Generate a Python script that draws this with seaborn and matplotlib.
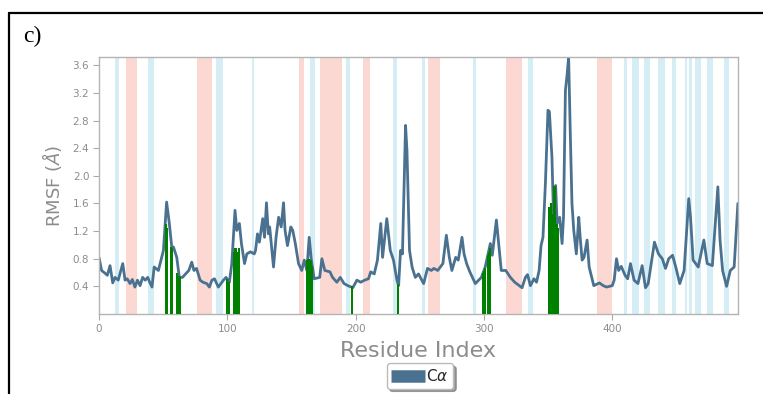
import numpy as np
import pandas as pd
import seaborn as sns
import matplotlib
matplotlib.use("Agg")
import matplotlib.pyplot as plt
from matplotlib.lines import Line2D

# ---------------- data ----------------
residue = [0, 2, 4.7, 6.5, 8.6, 10.7, 12.5, 15, 18.5, 20.3, 22, 24.2, 26, 28, 30, 32, 34, 36, 38, 39.5,
           41.3, 43, 46.3, 50.2, 52.7, 54.8, 56.7, 58, 60.6, 62.6, 65, 70, 72.3, 74, 76, 78.8, 81, 84, 86, 88,
           90, 93, 97, 99, 101.6, 103.5, 106, 107.4, 109.4, 111, 113.4, 115.2, 118, 121, 122, 123.5, 125,
           127.6, 129, 130.5, 132, 133, 134.5, 136, 138, 140, 142, 143.8, 145, 146.9, 149.5, 151, 153, 155.5,
           158, 160, 162, 163.8, 165.5, 167.7, 172, 173.7, 176, 180, 182, 185.4, 188, 191, 194, 197.8, 201,
           204, 207, 210, 211.8, 214.5, 217, 219.6, 221, 224.3, 227, 229.5, 232.2, 233.5, 235, 236.5, 238.9,
           240, 242, 244, 246.5, 249, 253, 256, 259, 261, 264, 268, 270.7, 273, 275, 278, 280, 282.9, 284.5,
           286.5, 289, 293.3, 298, 301, 305, 306.5, 309.7, 311, 313.5, 317, 320.6, 324, 329.7, 332.3, 334,
           336.2, 339, 341, 343, 344.5, 346, 347.9, 349.9, 351, 353, 354.3, 355.9, 357, 359, 360.9, 362,
           363.5, 364.8, 366, 367.3, 368.6, 370, 372, 373.9, 375, 376.5, 378, 380.4, 382, 385.6, 390, 393,
           395.5, 400, 401.5, 403.3, 405, 407, 410, 412, 414.2, 417, 420, 423.3, 425.9, 428, 432.9, 436, 439,
           441.5, 444, 447, 449.5, 452.6, 456, 459.6, 461, 463, 467, 471.4, 474, 478, 482.3, 484, 486, 489.1,
           492, 495, 497.9]
rmsf = [0.82, 0.63, 0.59, 0.56, 0.70, 0.45, 0.53, 0.49, 0.73, 0.49, 0.51, 0.44, 0.50, 0.39, 0.49, 0.41,
        0.53, 0.49, 0.53, 0.46, 0.39, 0.68, 0.63, 0.92, 1.62, 1.31, 0.97, 0.97, 0.82, 0.53, 0.53, 0.63, 0.75,
        0.63, 0.66, 0.49, 0.46, 0.44, 0.39, 0.49, 0.51, 0.39, 0.49, 0.53, 0.46, 0.73, 1.50, 1.21, 1.31, 1.02,
        0.73, 0.87, 0.90, 0.87, 0.92, 1.16, 1.04, 1.38, 1.11, 1.61, 1.16, 1.26, 0.97, 0.68, 1.11, 1.40, 1.26,
        1.61, 1.21, 0.99, 1.26, 1.21, 1.02, 0.73, 0.63, 0.78, 0.63, 1.11, 0.78, 0.51, 0.53, 0.80, 0.63, 0.61,
        0.53, 0.46, 0.53, 0.44, 0.41, 0.38, 0.49, 0.46, 0.49, 0.51, 0.61, 0.58, 0.78, 1.31, 0.82, 1.38, 0.92,
        0.78, 0.49, 0.41, 0.92, 0.87, 2.73, 2.37, 0.92, 0.68, 0.53, 0.58, 0.44, 0.66, 0.63, 0.66, 0.63, 0.73,
        1.14, 0.82, 0.63, 0.82, 0.78, 1.11, 0.87, 0.73, 0.61, 0.44, 0.53, 0.68, 1.02, 0.85, 1.36, 1.11, 0.63,
        0.63, 0.53, 0.46, 0.38, 0.53, 0.57, 0.41, 0.51, 0.46, 0.63, 0.99, 1.11, 1.89, 2.95, 2.93, 2.27, 1.36,
        1.86, 1.31, 1.40, 1.02, 1.40, 3.24, 3.46, 3.72, 2.61, 1.60, 1.21, 0.87, 1.40, 1.11, 0.78, 0.82, 1.07,
        0.68, 0.41, 0.45, 0.41, 0.39, 0.41, 0.49, 0.80, 0.63, 0.69, 0.56, 0.51, 0.73, 0.49, 0.44, 0.70, 0.38,
        0.44, 1.04, 0.87, 0.80, 0.66, 0.80, 0.85, 0.68, 0.44, 0.63, 1.67, 1.40, 0.78, 0.68, 1.07, 0.73, 0.70,
        1.84, 1.07, 0.63, 0.40, 0.63, 0.68, 1.60]

contact_res = [52, 53, 56, 57, 61, 62, 63, 100, 101, 105, 106, 107, 108, 109, 162, 163, 164, 165, 166,
               197, 233, 299, 300, 301, 303, 304, 305, 351, 352, 353, 354, 355, 356, 357, 358]
contact_val = [1.30, 1.25, 0.97, 0.95, 0.60, 0.55, 0.53, 0.50, 0.46, 0.90, 0.95, 0.95, 0.90, 0.95,
               0.78, 0.80, 0.80, 0.78, 0.70, 0.40, 0.43, 0.60, 0.62, 0.66, 0.85, 0.90, 0.95,
               1.55, 1.60, 1.45, 1.35, 1.85, 1.30, 1.30, 1.25]

helix_start = [21, 76, 155.5, 172.5, 206, 256.5, 317.5, 388.5]
helix_end = [30, 88, 159.5, 189, 211.5, 266, 330, 400]
strand_start = [12.5, 38.5, 91.5, 119, 164.5, 192.5, 229, 251.5, 291.5, 334, 409.5, 415.4, 424.6,
                435.5, 446.2, 456.5, 459.7, 464.8, 473.5, 487.3]
strand_end = [15.5, 42.5, 97, 120.5, 168.5, 196, 232, 254.3, 294, 338, 411.6, 421, 429.8, 441, 450,
              458.2, 461.8, 469, 478.6, 490.8]

x_ticks = [0, 100, 200, 300, 400]
y_ticks = [0.4, 0.8, 1.2, 1.6, 2.0, 2.4, 2.8, 3.2, 3.6]
x_label = "Residue Index"
y_label = r"RMSF ($\AA$)"
series_name = r"C$\alpha$"
panel_label = "c)"

# ---------------- plot ----------------
sns.set_style("white")
plt.rcParams["font.family"] = ["DejaVu Sans"]

W, H = 763, 394
fig = plt.figure(figsize=(W / 100, H / 100), dpi=100)
ax = fig.add_axes([99 / W, 1 - 314 / H, (738 - 99) / W, (314 - 57) / H])

line_color = "#4a7290"
grey = "#8c8c8c"

for s, e in zip(helix_start, helix_end):
    ax.axvspan(s, e, color="#fbd9d2", lw=0, zorder=0)
for s, e in zip(strand_start, strand_end):
    ax.axvspan(s, e, color="#d5eef5", lw=0, zorder=0)

df = pd.DataFrame({"Residue": residue, "RMSF": rmsf})
sns.lineplot(data=df, x="Residue", y="RMSF", color=line_color, lw=2.0, ax=ax, zorder=2,
             legend=False)

cdf = pd.DataFrame({"Residue": contact_res, "RMSF": contact_val})
sns.barplot(data=cdf, x="Residue", y="RMSF", native_scale=True, color="green", saturation=1,
            width=1.6, errorbar=None, linewidth=0, ax=ax, zorder=3)
if ax.get_legend() is not None:
    ax.get_legend().remove()

ax.set_xlim(0, 498)
ax.set_ylim(0, 3.72)
ax.set_xticks(x_ticks)
ax.set_yticks(y_ticks)
ax.set_xticklabels([str(t) for t in x_ticks])
ax.set_yticklabels([f"{t:.1f}" for t in y_ticks])
ax.tick_params(axis="both", which="both", direction="out", length=4, width=0.8,
               color="#aaaaaa", labelcolor=grey, labelsize=7.5, bottom=True, left=True, pad=3)
for sp in ax.spines.values():
    sp.set_color("#b4b4b4")
    sp.set_linewidth(1.0)

ax.set_xlabel(x_label, fontsize=16, color=grey, labelpad=5)
ax.set_ylabel(y_label, fontsize=13, color=grey, labelpad=6)

handle = Line2D([0], [0], color=line_color, lw=9, solid_capstyle="butt")
fig.legend([handle], [series_name], loc="center", bbox_to_anchor=(420 / W, 1 - 376 / H),
           fancybox=True, shadow=True, frameon=True, fontsize=11, handlelength=2.2,
           handletextpad=0.1, borderpad=0.3, borderaxespad=0, edgecolor="#bbbbbb")

fig.text(23 / W, 1 - 42 / H, panel_label, fontsize=17, family=["Liberation Serif", "DejaVu Serif"],
         color="black", ha="left", va="baseline")

# frame around the panel (top and left edges visible)
fig.add_artist(Line2D([9 / W, 1.01], [1 - 13 / H, 1 - 13 / H], transform=fig.transFigure,
                      color="black", lw=1.6))
fig.add_artist(Line2D([9 / W, 9 / W], [-0.01, 1 - 13 / H], transform=fig.transFigure,
                      color="black", lw=1.6))

fig.savefig("out.png", dpi=100)
